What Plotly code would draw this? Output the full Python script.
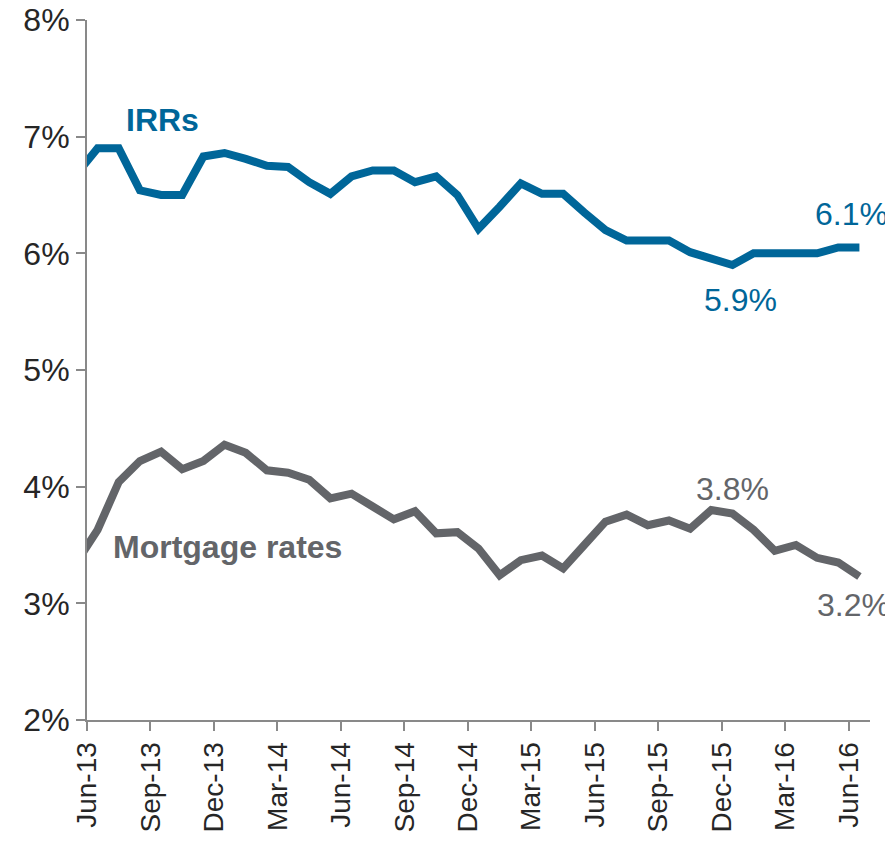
import plotly.graph_objects as go

months = ["May-13", "Jun-13", "Jul-13", "Aug-13", "Sep-13", "Oct-13", "Nov-13", "Dec-13",
          "Jan-14", "Feb-14", "Mar-14", "Apr-14", "May-14", "Jun-14", "Jul-14", "Aug-14",
          "Sep-14", "Oct-14", "Nov-14", "Dec-14", "Jan-15", "Feb-15", "Mar-15", "Apr-15",
          "May-15", "Jun-15", "Jul-15", "Aug-15", "Sep-15", "Oct-15", "Nov-15", "Dec-15",
          "Jan-16", "Feb-16", "Mar-16", "Apr-16", "May-16", "Jun-16"]

irr = [6.68, 6.90, 6.90, 6.54, 6.50, 6.50, 6.83, 6.86, 6.81, 6.75, 6.74, 6.61, 6.51,
       6.66, 6.71, 6.71, 6.61, 6.66, 6.50, 6.21, 6.40, 6.60, 6.51, 6.51, 6.35, 6.20,
       6.11, 6.11, 6.11, 6.01, 5.95, 5.90, 6.00, 6.00, 6.00, 6.00, 6.05, 6.05]

mortgage = [3.35, 3.63, 4.04, 4.22, 4.30, 4.15, 4.22, 4.36, 4.29, 4.14, 4.12, 4.06, 3.90,
            3.94, 3.83, 3.72, 3.79, 3.60, 3.61, 3.47, 3.24, 3.37, 3.41, 3.30, 3.50, 3.70,
            3.76, 3.67, 3.71, 3.64, 3.80, 3.77, 3.63, 3.45, 3.50, 3.39, 3.35, 3.23]

tick_labels = ["Jun-13", "Sep-13", "Dec-13", "Mar-14", "Jun-14", "Sep-14", "Dec-14",
               "Mar-15", "Jun-15", "Sep-15", "Dec-15", "Mar-16", "Jun-16"]
y_ticks = [2, 3, 4, 5, 6, 7, 8]

BLUE = "#006699"
GRAY = "#636569"
FONT = "Arial, Liberation Sans, sans-serif"

base = months.index("Jun-13")
xpos = [i - base for i in range(len(months))]
tickvals = [months.index(l) - base - 0.5 for l in tick_labels]

fig = go.Figure()
fig.add_trace(go.Scatter(x=xpos, y=irr, mode="lines", line=dict(color=BLUE, width=8),
                         hoverinfo="skip", showlegend=False))
fig.add_trace(go.Scatter(x=xpos, y=mortgage, mode="lines", line=dict(color=GRAY, width=8),
                         hoverinfo="skip", showlegend=False))

def idx(m):
    return months.index(m) - base

ann = [
    dict(x=3.09, y=7.14, text="<b>IRRs</b>", font=dict(color=BLUE, size=32), showarrow=False),
    dict(x=6.12, y=3.48, text="<b>Mortgage rates</b>", font=dict(color=GRAY, size=32), showarrow=False),
    dict(x=idx("Jun-16"), y=irr[-1], text="6.1%", font=dict(color=BLUE, size=32),
         showarrow=False, xshift=-8, yshift=34),
    dict(x=idx("Dec-15"), y=irr[months.index("Dec-15")], text="5.9%", font=dict(color=BLUE, size=32),
         showarrow=False, xshift=8, yshift=-35),
    dict(x=idx("Nov-15"), y=mortgage[months.index("Nov-15")], text="3.8%", font=dict(color=GRAY, size=32),
         showarrow=False, xshift=21, yshift=21),
    dict(x=idx("Jun-16"), y=mortgage[-1], text="3.2%", font=dict(color=GRAY, size=32),
         showarrow=False, xshift=-6, yshift=-28),
]

fig.update_layout(
    width=885, height=834,
    margin=dict(l=79, r=23, t=12, b=122),
    paper_bgcolor="white", plot_bgcolor="white",
    font=dict(family=FONT, color="#262626"),
    annotations=ann,
    xaxis=dict(range=[-0.5, 36.5], tickmode="array", tickvals=tickvals, ticktext=tick_labels,
               tickangle=-90, showgrid=False, zeroline=False, showline=True, automargin=False,
               ticklabeloverflow="allow",
               linecolor="#898989", linewidth=2, ticks="outside", ticklen=9, tickwidth=2,
               tickcolor="#898989", tickfont=dict(size=28, color="#262626")),
    yaxis=dict(range=[2, 8], tickmode="array", tickvals=y_ticks, automargin=False,
               ticklabeloverflow="allow",
               ticktext=[f"{v}%" for v in y_ticks], showgrid=False, zeroline=False,
               showline=True, linecolor="#898989", linewidth=2, ticks="outside", ticklen=9,
               tickwidth=2, tickcolor="#898989", tickfont=dict(size=32, color="#262626")),
)

fig.write_html("out.html")
